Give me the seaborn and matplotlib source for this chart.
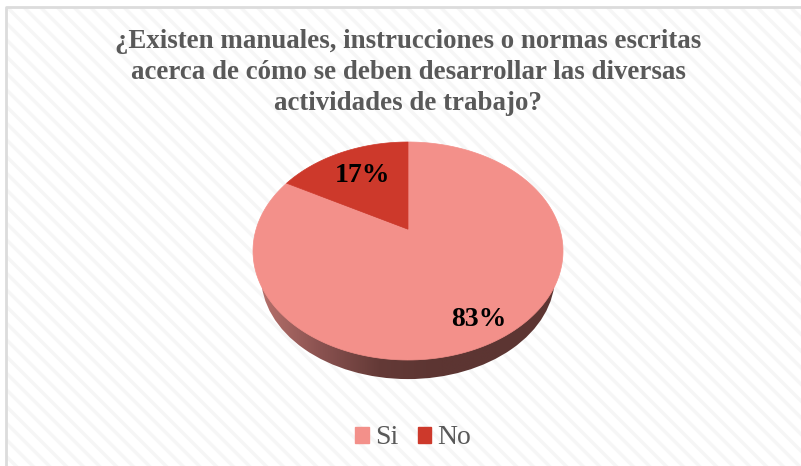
import numpy as np
import seaborn as sns
import matplotlib.pyplot as plt
from matplotlib.patches import Rectangle, Polygon, Ellipse
from matplotlib.colors import LinearSegmentedColormap

labels = ['Si', 'No']
values = [83, 17]
title_lines = ['¿Existen manuales, instrucciones o normas escritas',
               'acerca de cómo se deben desarrollar las diversas',
               'actividades de trabajo?']

W, H = 801, 466
tilt = 0.2  # how far the 3d perspective pushes the pie centre up

sns.set_theme(style='white')
plt.rcParams['font.family'] = ['Liberation Serif', 'DejaVu Serif']
plt.rcParams['hatch.linewidth'] = 2.5
colors = sns.color_palette(['#F3908A', '#CD392B'])

fig = plt.figure(figsize=(W / 100, H / 100), dpi=100, facecolor='white')

# background with the diagonal stripes and the frame
bg = fig.add_axes([0, 0, 1, 1])
bg.set_xlim(0, W)
bg.set_ylim(H, 0)
bg.axis('off')
bg.add_patch(Rectangle((6, 7), W, H, facecolor='white', edgecolor='#f6f6f6', hatch='\\\\', lw=0))
bg.plot([6, 6, W], [H, 7, 7], color='#dcdcdc', lw=2)

for i, line in enumerate(title_lines):
    bg.text(408, 48 + i * 31, line, ha='center', va='baseline', fontsize=19.4,
            fontweight='bold', color='#595959')

# pie axes, unit circle is the top face of the pie
ax = fig.add_axes([253 / W, 1 - 360 / H, 310 / W, 218 / H])
wedges, _ = ax.pie(values, colors=colors, startangle=90, counterclock=False, radius=1)
ax.set_aspect('auto')
ax.axis('off')

# side of the pie, fading from left to right
side = LinearSegmentedColormap.from_list('side', ['#B5706B', '#8A5250', '#643A37', '#5C3532', '#5C3532', '#5E3633'])
grad = np.linspace(0, 1, 256).reshape(1, -1)
rim = Ellipse((0, -0.23), 1.896, 1.89, transform=ax.transData, facecolor='none', edgecolor='none')
ax.add_patch(rim)
img = ax.imshow(grad, cmap=side, extent=(-0.95, 0.95, -1.2, 0.7), aspect='auto', zorder=1)
img.set_clip_path(rim)
img.set_clip_box(fig.bbox)
ax.set_xlim(-1, 1)
ax.set_ylim(-1, 1)

# the pie's slices seen in perspective: centre moved up, rim stays on the ellipse
for w, c in zip(wedges, colors):
    w.set_visible(False)
    t = np.radians(np.linspace(w.theta1, w.theta2, 200))
    x, y = np.cos(t), np.sin(t)
    d = 1 + tilt * y
    px = x * np.sqrt(1 - tilt ** 2) / d
    py = (y + tilt) / d
    pts = np.vstack([[0, tilt], np.column_stack([px, py])])
    ax.add_patch(Polygon(pts, closed=True, facecolor=c, edgecolor=c, lw=0.5, zorder=2, clip_on=False))

bg.set_zorder(0)
ax.set_zorder(1)
ax.patch.set_visible(False)

top = fig.add_axes([0, 0, 1, 1], zorder=2)
top.set_xlim(0, W)
top.set_ylim(H, 0)
top.axis('off')
top.text(479, 319, f'{values[0]}%', ha='center', va='center', fontsize=20, fontweight='bold', color='black')
top.text(362.5, 176, f'{values[1]}%', ha='center', va='center', fontsize=20, fontweight='bold', color='black')

# legend
handles = [Rectangle((0, 0), 1, 1, color=c) for c in colors]
leg = top.legend(handles, labels, loc='center', bbox_to_anchor=(413 / W, 1 - 438 / H), ncol=2, frameon=False,
                 fontsize=20, handlelength=0.5, handleheight=0.5, handletextpad=0.2, columnspacing=0.7,
                 labelcolor='#595959')

fig.savefig('out.png', dpi=100)
